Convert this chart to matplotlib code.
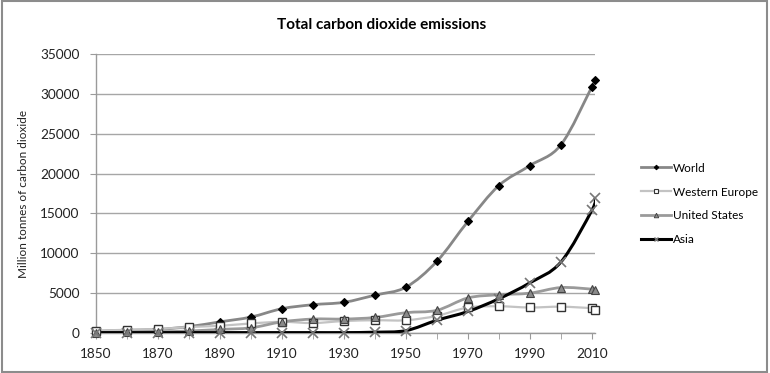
import matplotlib
matplotlib.use("Agg")
import matplotlib.pyplot as plt
from matplotlib.path import Path
from matplotlib.patches import PathPatch, Rectangle
from matplotlib.lines import Line2D
from matplotlib.ticker import MultipleLocator

plt.rcParams['font.family'] = ['Lato', 'DejaVu Sans']

# Data (million tonnes of CO2)
years = [1850, 1860, 1870, 1880, 1890, 1900, 1910, 1920, 1930, 1940,
         1950, 1960, 1970, 1980, 1990, 2000, 2010, 2011]
world = [200, 350, 450, 800, 1400, 2000, 3050, 3550, 3850, 4750,
         5750, 9000, 14000, 18500, 21000, 23600, 30900, 31800]
western_europe = [300, 400, 500, 750, 900, 1200, 1400, 1250, 1500, 1600,
                  1600, 2150, 3200, 3350, 3200, 3300, 3100, 2900]
united_states = [50, 100, 150, 250, 450, 650, 1400, 1750, 1750, 1950,
                 2550, 2850, 4400, 4800, 5000, 5700, 5500, 5450]
asia = [50, 50, 50, 50, 50, 50, 50, 50, 50, 100,
        300, 1600, 2700, 4300, 6300, 8900, 15400, 16900]
x_tick_labels = [1850, 1870, 1890, 1910, 1930, 1950, 1970, 1990, 2010]

series_names = ['World', 'Western Europe', 'United States', 'Asia']
series_values = [world, western_europe, united_states, asia]

styles = {
    'World': dict(color='#878787', lw=2.0, marker='D', ms=4.3, mfc='black', mec='black', mew=0.8),
    'Western Europe': dict(color='#c3c3c3', lw=1.6, marker='s', ms=5.5, mfc='white', mec='#333333', mew=1.0),
    'United States': dict(color='#9a9a9a', lw=2.0, marker='^', ms=6, mfc='#8a8a8a', mec='#444444', mew=0.8),
    'Asia': dict(color='black', lw=2.2, marker='x', ms=6.5, mfc='none', mec='#777777', mew=1.2),
}


def smooth_path(xs, ys):
    # Excel-style smoothed line: cubic Bezier segments (Catmull-Rom controls)
    pts = list(zip(xs, ys))
    n = len(pts)
    verts = [pts[0]]
    codes = [Path.MOVETO]
    for i in range(n - 1):
        p0 = pts[i - 1] if i > 0 else pts[i]
        p1 = pts[i]
        p2 = pts[i + 1]
        p3 = pts[i + 2] if i + 2 < n else pts[i + 1]
        c1 = (p1[0] + (p2[0] - p0[0]) / 6, p1[1] + (p2[1] - p0[1]) / 6)
        c2 = (p2[0] - (p3[0] - p1[0]) / 6, p2[1] - (p3[1] - p1[1]) / 6)
        verts += [c1, c2, p2]
        codes += [Path.CURVE4] * 3
    return Path(verts, codes)


fig = plt.figure(figsize=(7.7, 3.73), dpi=100)
ax = fig.add_axes([96 / 770, 40 / 373, 499 / 770, 279 / 373])

for name, vals in zip(series_names, series_values):
    st = styles[name]
    ax.add_patch(PathPatch(smooth_path(years, vals), fill=False,
                           edgecolor=st['color'], lw=st['lw'], zorder=3))
    ax.plot(years, vals, linestyle='none', marker=st['marker'], ms=st['ms'],
            mfc=st['mfc'], mec=st['mec'], mew=st['mew'], zorder=4, clip_on=False)

ax.set_xlim(1850, 2011)
ax.set_ylim(0, 35000)
ax.set_xticks(x_tick_labels)
ax.set_xticklabels([str(v) for v in x_tick_labels])
ax.xaxis.set_minor_locator(MultipleLocator(10))
ax.yaxis.set_major_locator(MultipleLocator(5000))
ax.grid(axis='y', color='#a6a6a6', lw=1.0)
ax.set_axisbelow(True)
for s in ['top', 'right']:
    ax.spines[s].set_visible(False)
for s in ['left', 'bottom']:
    ax.spines[s].set_color('#9a9a9a')
    ax.spines[s].set_linewidth(1.0)
ax.tick_params(axis='both', which='both', color='#9a9a9a', length=4, labelsize=9.8,
               labelcolor='#222222')
ax.tick_params(axis='y', pad=8)
ax.tick_params(axis='x', pad=7)

ax.set_ylabel('Million tonnes of carbon dioxide', fontsize=8.5, color='#222222', labelpad=8)
fig.text(0.496, 0.933, 'Total carbon dioxide emissions', ha='center', va='center',
         fontsize=11, fontweight='bold', color='black')

handles = []
for name in series_names:
    st = styles[name]
    handles.append(Line2D([], [], color=st['color'], lw=st['lw'], marker=st['marker'],
                          ms=st['ms'] * 0.55, mfc=st['mfc'], mec=st['mec'], mew=st['mew'] * 0.8))
fig.legend(handles, series_names, loc='center left', bbox_to_anchor=(630 / 770, 1 - 204 / 373),
           frameon=False, fontsize=8.5, handlelength=2.6, labelspacing=1.1, handletextpad=0.15)

fig.add_artist(Rectangle((0.002, 0.004), 0.994, 0.992, transform=fig.transFigure,
                         fill=False, edgecolor='#8c8c8c', lw=1.5))

fig.savefig('out.png', dpi=100)
